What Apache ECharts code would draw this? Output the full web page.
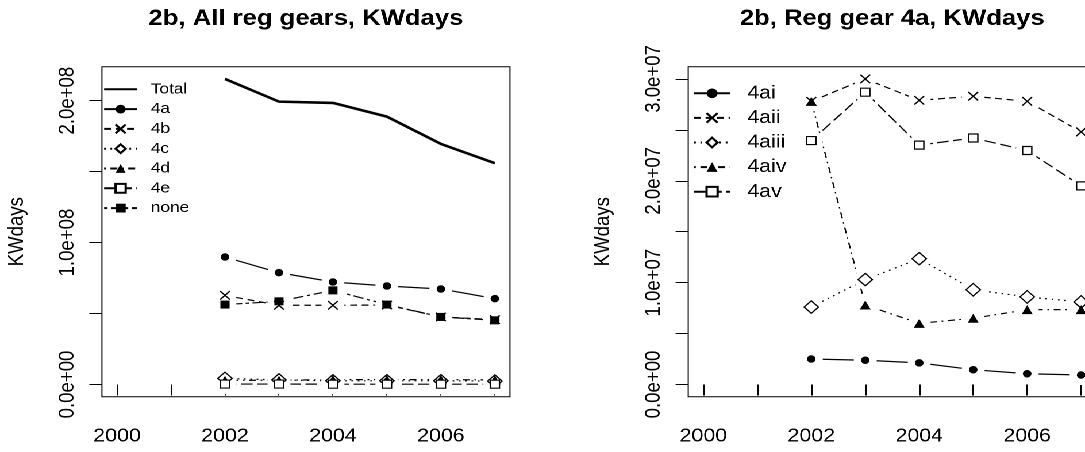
<!DOCTYPE html>
<html>
<head>
<meta charset="utf-8">
<script src="https://cdn.jsdelivr.net/npm/echarts@6/dist/echarts.min.js"></script>
<style>
  html, body { margin: 0; padding: 0; background: #fff; overflow: hidden; }
  /* the drawing is laid out on a narrower canvas and widened to the window */
  #chart { width: 944px; height: 452px; transform: scaleX(1.14936); transform-origin: 0 0; }
</style>
</head>
<body>
<div id="chart"></div>
<script>
// ---- data -------------------------------------------------------------
const years = [2002, 2003, 2004, 2005, 2006, 2007];

// All regulated gears, KW days
const kwTotal = [215.3e6, 199.3e6, 198.4e6, 188.7e6, 169.5e6, 155.9e6];
const kw4a    = [89.8e6, 78.8e6, 72.2e6, 69.4e6, 67.3e6, 60.5e6];
const kw4b    = [62.8e6, 55.8e6, 55.8e6, 56.0e6, 47.6e6, 45.7e6];
const kw4c    = [4.3e6, 3.2e6, 2.6e6, 2.6e6, 2.6e6, 2.4e6];
const kw4d    = [3.0e6, 3.0e6, 3.4e6, 3.4e6, 3.4e6, 3.2e6];
const kw4e    = [0.3e6, 0.3e6, 0.2e6, 0.2e6, 0.2e6, 0.2e6];
const kwNone  = [56.3e6, 58.6e6, 66.3e6, 56.3e6, 47.6e6, 45.2e6];

// Regulated gear 4a, KW days
const kw4ai   = [2.5e6, 2.38e6, 2.12e6, 1.45e6, 1.05e6, 0.93e6];
const kw4aii  = [27.8e6, 30.0e6, 27.9e6, 28.3e6, 27.8e6, 24.8e6];
const kw4aiii = [7.6e6, 10.3e6, 12.35e6, 9.3e6, 8.6e6, 8.1e6];
const kw4aiv  = [27.8e6, 7.8e6, 6.0e6, 6.5e6, 7.35e6, 7.35e6];
const kw4av   = [23.95e6, 28.7e6, 23.5e6, 24.2e6, 22.97e6, 19.5e6];

const xTicks = [2000, 2001, 2002, 2003, 2004, 2005, 2006, 2007];
const xLabels = [2000, 2002, 2004, 2006];
const leftYTicks = [0, 5e7, 1e8, 1.5e8, 2e8];
const leftYLabels = [0, 1e8, 2e8];
const rightYTicks = [0, 5e6, 1e7, 1.5e7, 2e7, 2.5e7, 3e7];
const rightYLabels = [0, 1e7, 2e7, 3e7];

// ---- styling ----------------------------------------------------------
const FONT = '"Liberation Sans", Arial, Helvetica, sans-serif';
const INK = '#000';
const CROSS = 'path://M0,0L10,10M10,0L0,10';
const GAP = 20;   // white disc behind each point, so lines stop short of it

// line types
const DASHES = {
  solid: 'solid',
  dashed: [6, 4],
  dotted: [1.5, 4],
  dotdash: [1.5, 4, 6, 4],
  longdash: [10, 4],
  twodash: [3, 3, 9, 3]
};

// point characters
const MARKS = {
  dot:      { symbol: 'circle',   size: 7.5, fill: INK,    border: 0 },
  cross:    { symbol: CROSS,      size: 8.5, fill: INK,    border: 1.3 },
  diamond:  { symbol: 'diamond',  size: 12.5, fill: '#fff', border: 1.2 },
  triangle: { symbol: 'triangle', size: [9.5, 9], fill: INK, border: 0 },
  square:   { symbol: 'rect',     size: 8,   fill: '#fff', border: 1.2 },
  block:    { symbol: 'rect',     size: 8,   fill: INK,    border: 0 }
};

function sci(v) {
  if (v === 0) return '0.0e+00';
  const e = Math.floor(Math.log10(Math.abs(v)) + 1e-9);
  const m = v / Math.pow(10, e);
  return m.toFixed(1) + 'e' + (e < 0 ? '-' : '+') + String(Math.abs(e)).padStart(2, '0');
}

function pairs(vals) { return years.map((y, i) => [y, vals[i]]); }

// Each line with points is drawn on three layers: the line itself,
// white discs that open a gap around every point, then the points.
function lineLayers(name, vals, axisIdx, dash, mark, width) {
  const common = {
    type: 'line',
    xAxisIndex: axisIdx,
    yAxisIndex: axisIdx,
    animation: false,
    silent: true
  };
  const line = Object.assign({}, common, {
    name: name,
    data: pairs(vals),
    zlevel: 0,
    color: INK,
    lineStyle: { color: INK, width: width || 1.2, type: DASHES[dash] }
  });
  if (!mark) {
    line.symbol = 'circle';
    line.symbolSize = 0;
    line.showSymbol = false;
    return [line];
  }
  const m = MARKS[mark];
  Object.assign(line, { symbol: m.symbol, symbolSize: m.size,
    itemStyle: { color: m.fill, borderColor: INK, borderWidth: m.border, opacity: 1 } });
  const halo = Object.assign({}, common, {
    name: name + ' gap', data: pairs(vals), zlevel: 1,
    symbol: 'circle', symbolSize: GAP,
    itemStyle: { color: '#fff', borderWidth: 0 },
    lineStyle: { width: 0, opacity: 0 }
  });
  const points = Object.assign({}, common, {
    name: name + ' points', data: pairs(vals), zlevel: 2,
    symbol: m.symbol, symbolSize: m.size,
    itemStyle: { color: m.fill, borderColor: INK, borderWidth: m.border, opacity: 1 },
    lineStyle: { width: 0, opacity: 0 }
  });
  return [line, halo, points];
}

const leftMax = Math.max(...kwTotal);
const rightMax = Math.max(...kw4ai, ...kw4aii, ...kw4aiii, ...kw4aiv, ...kw4av);

function xAxis(gridIndex) {
  return {
    type: 'value', gridIndex: gridIndex,
    min: 1999.72, max: 2007.28,
    axisLine: { show: false },
    splitLine: { show: false },
    axisTick: { show: true, inside: false, length: 11, customValues: xTicks,
                lineStyle: { color: INK, width: 1 } },
    axisLabel: { show: true, customValues: xLabels, margin: 30, color: INK,
                 fontFamily: FONT, fontSize: 18.6, formatter: v => String(v) }
  };
}

function yAxis(gridIndex, top, ticks, labels) {
  return {
    type: 'value', gridIndex: gridIndex,
    min: -0.04 * top, max: 1.04 * top,
    name: 'KWdays', nameLocation: 'middle', nameGap: 64.5, nameRotate: 90,
    nameTextStyle: { color: INK, fontFamily: FONT, fontSize: 18.6 },
    axisLine: { show: false },
    splitLine: { show: false },
    axisTick: { show: true, inside: false, length: 11, customValues: ticks,
                lineStyle: { color: INK, width: 1 } },
    axisLabel: { show: true, customValues: labels, rotate: 90, margin: 20.5,
                 color: INK, fontFamily: FONT, fontSize: 18.6, formatter: sci }
  };
}

const leftNames = ['Total', '4a', '4b', '4c', '4d', '4e', 'none'];
const rightNames = ['4ai', '4aii', '4aiii', '4aiv', '4av'];

const option = {
  backgroundColor: '#fff',
  animation: false,
  title: [
    { text: '2b, All reg gears, KWdays', left: 266.2, top: 8, textAlign: 'center', padding: 0,
      textStyle: { fontFamily: FONT, fontSize: 22.3, fontWeight: 'bold', color: INK } },
    { text: '2b, Reg gear 4a, KWdays', left: 776.3, top: 8, textAlign: 'center', padding: 0,
      textStyle: { fontFamily: FONT, fontSize: 22.3, fontWeight: 'bold', color: INK } }
  ],
  grid: [
    { left: 88.7, right: 500.3, top: 66.7, bottom: 55.3, show: true, borderColor: INK,
      borderWidth: 1, backgroundColor: 'transparent', containLabel: false, outerBoundsMode: 'none' },
    { left: 598.8, right: -9.8, top: 66.7, bottom: 55.3, show: true, borderColor: INK,
      borderWidth: 1, backgroundColor: 'transparent', containLabel: false, outerBoundsMode: 'none' }
  ],
  xAxis: [xAxis(0), xAxis(1)],
  yAxis: [yAxis(0, leftMax, leftYTicks, leftYLabels), yAxis(1, rightMax, rightYTicks, rightYLabels)],
  legend: [
    { data: leftNames.map(n => n === 'Total' ? { name: n, itemStyle: { opacity: 0 } } : n),
      orient: 'vertical', left: 89.6, top: 81.3, padding: 0,
      itemWidth: 28.7, itemHeight: 11, itemGap: 3.8, selectedMode: false,
      textStyle: { fontFamily: FONT, fontSize: 15, color: INK, lineHeight: 16, padding: [0, 0, 0, 7] } },
    { data: rightNames, orient: 'vertical', left: 602.9, top: 83.3, padding: 0,
      itemWidth: 31.3, itemHeight: 12, itemGap: 4.6, selectedMode: false,
      textStyle: { fontFamily: FONT, fontSize: 18.6, color: INK, lineHeight: 20, padding: [0, 0, 0, 10] } }
  ],
  series: [].concat(
    lineLayers('Total', kwTotal, 0, 'solid', null, 2.6),
    lineLayers('4a', kw4a, 0, 'solid', 'dot'),
    lineLayers('4b', kw4b, 0, 'dashed', 'cross'),
    lineLayers('4c', kw4c, 0, 'dotted', 'diamond'),
    lineLayers('4d', kw4d, 0, 'dotdash', 'triangle'),
    lineLayers('4e', kw4e, 0, 'longdash', 'square'),
    lineLayers('none', kwNone, 0, 'twodash', 'block'),
    lineLayers('4ai', kw4ai, 1, 'solid', 'dot'),
    lineLayers('4aii', kw4aii, 1, 'dashed', 'cross'),
    lineLayers('4aiii', kw4aiii, 1, 'dotted', 'diamond'),
    lineLayers('4aiv', kw4aiv, 1, 'dotdash', 'triangle'),
    lineLayers('4av', kw4av, 1, 'longdash', 'square')
  )
};

const chart = echarts.init(document.getElementById('chart'), null, { renderer: 'canvas', devicePixelRatio: 2 });
chart.setOption(option);
</script>
</body>
</html>
